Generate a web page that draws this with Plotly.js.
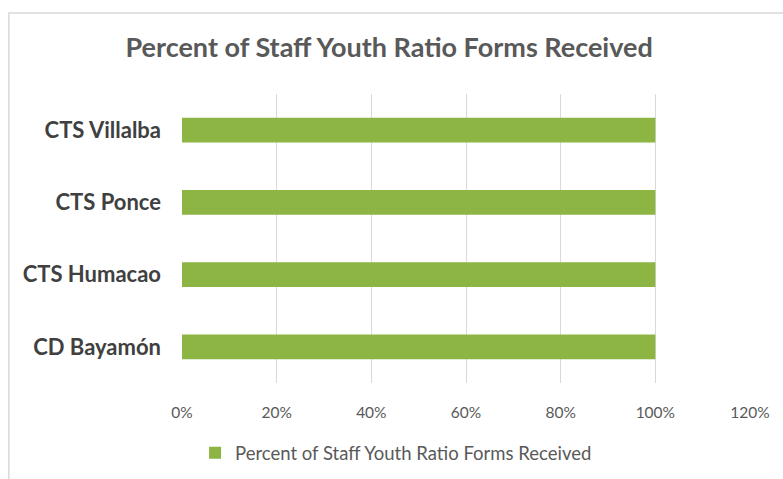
<!DOCTYPE html>
<html>
<head>
<meta charset="utf-8">
<script src="https://cdn.plot.ly/plotly-3.0.1.min.js"></script>
<style>
html,body{margin:0;padding:0;background:#fff;}
#chart{width:783px;height:479px;}
</style>
</head>
<body>
<div id="chart"></div>
<script>
var categories = ["CD Bayamón", "CTS Humacao", "CTS Ponce", "CTS Villalba"];
var percentReceived = [1.0, 1.0, 1.0, 1.0];
var seriesName = "Percent of Staff Youth Ratio Forms Received";
var tickValues = [0, 0.2, 0.4, 0.6, 0.8, 1.0, 1.2];
var tickLabels = ["0%", "20%", "40%", "60%", "80%", "100%", "120%"];

var trace = {
  type: "bar",
  orientation: "h",
  y: categories,
  x: percentReceived,
  name: seriesName,
  marker: {color: "#8DB543"},
  hoverinfo: "x+y",
  showlegend: true
};

var layout = {
  width: 783,
  height: 479,
  paper_bgcolor: "#ffffff",
  plot_bgcolor: "#ffffff",
  margin: {l: 182, r: 33, t: 94, b: 96, autoexpand: false},
  font: {family: "Lato, 'Open Sans', sans-serif", color: "#595959"},
  title: {
    text: "Percent of Staff Youth Ratio Forms Received",
    font: {family: "Lato, 'Open Sans', sans-serif", size: 27, color: "#595959", weight: "bold"},
    x: 0.497, xanchor: "center",
    y: 0.90, yanchor: "middle"
  },
  bargap: 0.66,
  xaxis: {
    range: [0, 1.2],
    tickvals: tickValues,
    ticktext: tickLabels,
    showgrid: true,
    gridcolor: "#d9d9d9",
    gridwidth: 1,
    zeroline: false,
    showline: false,
    ticks: "",
    ticklabelstandoff: 18,
    tickfont: {size: 15.5, color: "#595959"},
    automargin: false,
    fixedrange: true
  },
  yaxis: {
    categoryorder: "array",
    categoryarray: categories,
    showgrid: false,
    zeroline: false,
    showline: false,
    ticks: "",
    ticklabelstandoff: 20,
    tickfont: {size: 22, color: "#404040", weight: "bold"},
    automargin: false,
    fixedrange: true
  },
  showlegend: true,
  legend: {
    orientation: "h",
    x: 0.023, xanchor: "left",
    y: -0.243, yanchor: "middle",
    itemwidth: 30,
    font: {size: 18.5, color: "#595959"},
    bgcolor: "rgba(0,0,0,0)"
  },
  shapes: [{
    type: "rect",
    xref: "paper", yref: "paper",
    x0: -0.3048, x1: 1.3,
    y0: -0.6, y1: 1.28,
    line: {color: "#d9d9d9", width: 1.5},
    fillcolor: "rgba(0,0,0,0)",
    layer: "below"
  }]
};

Plotly.newPlot("chart", [trace], layout, {displayModeBar: false, staticPlot: true});
</script>
</body>
</html>
